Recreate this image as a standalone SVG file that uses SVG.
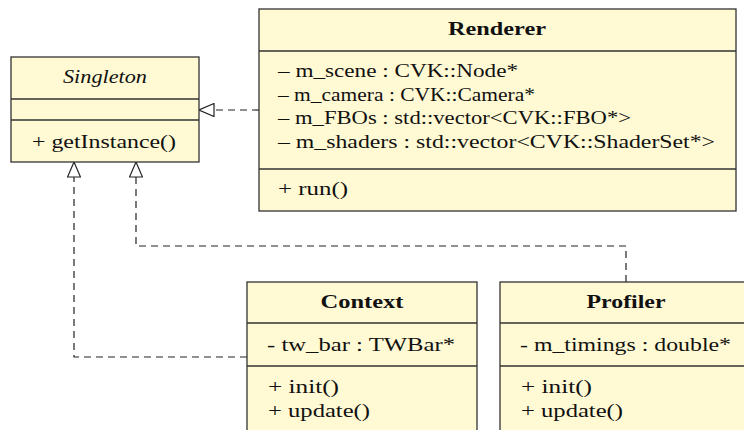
<svg xmlns="http://www.w3.org/2000/svg" width="744" height="430" viewBox="0 0 744 430">
  <style>
    .box { fill: #fff9d4; stroke: #333333; stroke-width: 1.3; }
    .sep { stroke: #333333; stroke-width: 1.3; }
    text { font-family: "Liberation Serif", "DejaVu Serif", serif; font-size: 19px; fill: #111111; }
    .title { font-weight: bold; text-anchor: middle; }
    .abstract { font-style: italic; text-anchor: middle; }
    .mid { text-anchor: middle; }
    .dep { fill: none; stroke: #222222; stroke-width: 1.2; stroke-dasharray: 7 5; marker-end: url(#realize); }
  </style>
  <defs>
    <marker id="realize" markerUnits="userSpaceOnUse" viewBox="0 0 16 14" markerWidth="16" markerHeight="14" refX="15.5" refY="7" orient="auto">
      <path d="M0.5,0.5 L15.5,7 L0.5,13.5 Z" fill="#ffffff" stroke="#222222" stroke-width="1.2"/>
    </marker>
  </defs>
  <rect width="744" height="430" fill="#ffffff"/>

  <!-- realization links to Singleton -->
  <g id="connectors">
    <path class="dep" d="M259,110 H199"/>
    <path class="dep" d="M247,357 H74 V162"/>
    <path class="dep" d="M626,282 V246 H136 V162"/>
  </g>

  <g id="singleton">
    <rect class="box" x="11" y="57" width="188" height="105"/>
    <line class="sep" x1="11" y1="99" x2="199" y2="99"/>
    <line class="sep" x1="11" y1="120" x2="199" y2="120"/>
    <text class="abstract" x="105" y="82.5" textLength="84" lengthAdjust="spacingAndGlyphs">Singleton</text>
    <text class="mid" x="104" y="148" textLength="144" lengthAdjust="spacingAndGlyphs">+ getInstance()</text>
  </g>

  <g id="renderer">
    <rect class="box" x="259" y="9" width="477" height="202"/>
    <line class="sep" x1="259" y1="51" x2="736" y2="51"/>
    <line class="sep" x1="259" y1="169" x2="736" y2="169"/>
    <text class="title" x="497" y="35" textLength="98" lengthAdjust="spacingAndGlyphs">Renderer</text>
    <text x="278" y="77" textLength="240" lengthAdjust="spacingAndGlyphs">– m_scene : CVK::Node*</text>
    <text x="278" y="100.5" textLength="257" lengthAdjust="spacingAndGlyphs">– m_camera : CVK::Camera*</text>
    <text x="278" y="124" textLength="353" lengthAdjust="spacingAndGlyphs">– m_FBOs : std::vector&lt;CVK::FBO*&gt;</text>
    <text x="278" y="147.5" textLength="437" lengthAdjust="spacingAndGlyphs">– m_shaders : std::vector&lt;CVK::ShaderSet*&gt;</text>
    <text x="278" y="195" textLength="70" lengthAdjust="spacingAndGlyphs">+ run()</text>
  </g>

  <g id="context">
    <rect class="box" x="247" y="282" width="230" height="170"/>
    <line class="sep" x1="247" y1="323" x2="477" y2="323"/>
    <line class="sep" x1="247" y1="366" x2="477" y2="366"/>
    <text class="title" x="362" y="308" textLength="83" lengthAdjust="spacingAndGlyphs">Context</text>
    <text x="267" y="351" textLength="188" lengthAdjust="spacingAndGlyphs">- tw_bar : TWBar*</text>
    <text x="268" y="393" textLength="71" lengthAdjust="spacingAndGlyphs">+ init()</text>
    <text x="268" y="417" textLength="102" lengthAdjust="spacingAndGlyphs">+ update()</text>
  </g>

  <g id="profiler">
    <rect class="box" x="500" y="282" width="260" height="170"/>
    <line class="sep" x1="500" y1="323" x2="760" y2="323"/>
    <line class="sep" x1="500" y1="366" x2="760" y2="366"/>
    <text class="title" x="626" y="308" textLength="79" lengthAdjust="spacingAndGlyphs">Profiler</text>
    <text x="520" y="351" textLength="211" lengthAdjust="spacingAndGlyphs">- m_timings : double*</text>
    <text x="521" y="393" textLength="71" lengthAdjust="spacingAndGlyphs">+ init()</text>
    <text x="521" y="417" textLength="102" lengthAdjust="spacingAndGlyphs">+ update()</text>
  </g>
</svg>
